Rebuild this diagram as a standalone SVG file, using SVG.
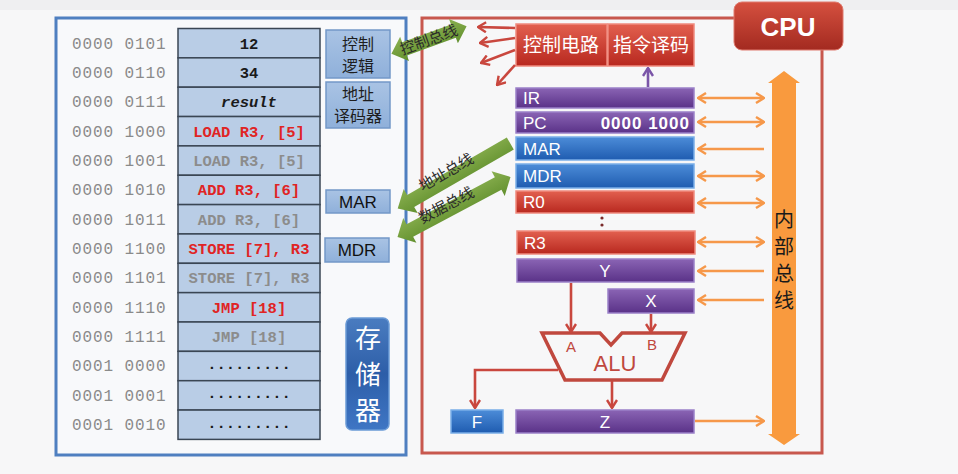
<svg xmlns="http://www.w3.org/2000/svg" width="958" height="474" viewBox="0 0 958 474">
<defs>
<style>
.addr{font-family:"Liberation Mono",monospace;font-size:16px;fill:#8a8a8a;letter-spacing:0.9px}
.cell{fill:#b9cde6;stroke:#3a4654;stroke-width:1.5}
.ct{font-family:"Liberation Mono",monospace;font-size:15.5px;font-weight:bold;text-anchor:middle}
.red{fill:#e02424}.gray{fill:#8c8c8c}.blk{fill:#1a1a1a}
.side{fill:url(#gSide);stroke:#7398c8;stroke-width:1.5}
.st{font-family:"Noto Sans CJK SC",sans-serif;font-size:16px;fill:#1e1e1e;text-anchor:middle}
.sl{font-family:"Liberation Sans",sans-serif;font-size:17px;fill:#111;text-anchor:middle}
.rt{font-family:"Liberation Sans",sans-serif;font-size:17px;fill:#fff}
.pur{fill:url(#gPur);stroke:#9a80c8;stroke-width:1.5}
.blu{fill:url(#gBlu);stroke:#7aaee8;stroke-width:1.5}
.rd{fill:url(#gRed);stroke:#f08a7e;stroke-width:1.5}
.oar{stroke:#f6984a;stroke-width:2.6;fill:none}
.rl{stroke:#c9473e;stroke-width:2.6;fill:none}
.gb{fill:url(#gGrn)}
.gt{font-family:"Noto Sans CJK SC",sans-serif;font-size:15px;fill:#2a2a2a;text-anchor:middle}
.ct2{font-family:"Noto Sans CJK SC",sans-serif;font-size:19px;fill:#fff;text-anchor:middle}
.mt{font-family:"Noto Sans CJK SC",sans-serif;font-size:26px;fill:#fff;text-anchor:middle}
.bt{font-family:"Noto Sans CJK SC",sans-serif;font-size:20px;fill:#1a1a1a;text-anchor:middle}
</style>
<linearGradient id="gSide" x1="0" y1="0" x2="0" y2="1"><stop offset="0" stop-color="#a9c3e4"/><stop offset="1" stop-color="#8fb0da"/></linearGradient>
<linearGradient id="gPur" x1="0" y1="0" x2="0" y2="1"><stop offset="0" stop-color="#8a64b4"/><stop offset="1" stop-color="#5a3288"/></linearGradient>
<linearGradient id="gBlu" x1="0" y1="0" x2="0" y2="1"><stop offset="0" stop-color="#4c8cd8"/><stop offset="1" stop-color="#1f5cb0"/></linearGradient>
<linearGradient id="gRed" x1="0" y1="0" x2="0" y2="1"><stop offset="0" stop-color="#e2604f"/><stop offset="1" stop-color="#b8281f"/></linearGradient>
<linearGradient id="gCpu" x1="0" y1="0" x2="0" y2="1"><stop offset="0" stop-color="#d5503f"/><stop offset="1" stop-color="#a32a20"/></linearGradient>
<linearGradient id="gMem" x1="0" y1="0" x2="0" y2="1"><stop offset="0" stop-color="#4a7cc0"/><stop offset="0.5" stop-color="#2d5ea8"/><stop offset="1" stop-color="#3f76c4"/></linearGradient>
<linearGradient id="gGrn" x1="0" y1="0" x2="0" y2="1"><stop offset="0" stop-color="#8ab050"/><stop offset="1" stop-color="#62902e"/></linearGradient>
<marker id="mo" viewBox="0 0 10 12" refX="9" refY="6" markerWidth="10" markerHeight="12" markerUnits="userSpaceOnUse" orient="auto-start-reverse"><path d="M1,1 L9,6 L1,11" fill="none" stroke="#f6984a" stroke-width="2.4"/></marker>
<marker id="mr" viewBox="0 0 10 12" refX="9" refY="6" markerWidth="10" markerHeight="12" markerUnits="userSpaceOnUse" orient="auto-start-reverse"><path d="M1,1 L9,6 L1,11" fill="none" stroke="#c9473e" stroke-width="2.4"/></marker>
<marker id="mp" viewBox="0 0 10 12" refX="9" refY="6" markerWidth="10" markerHeight="12" markerUnits="userSpaceOnUse" orient="auto-start-reverse"><path d="M1,1 L9,6 L1,11" fill="none" stroke="#7a55a8" stroke-width="2.4"/></marker>
</defs>
<rect width="958" height="474" fill="#f7f7f8"/>
<rect width="958" height="10" fill="#efeff1"/>

<g id="memory">
<rect x="56" y="18" width="350" height="437" fill="#f8f9fb" stroke="#4f7fc0" stroke-width="3"/>
<g id="mem-cells">
<rect class="cell" x="178" y="28.5" width="142" height="29.35"/>
<rect class="cell" x="178" y="57.85" width="142" height="29.35"/>
<rect class="cell" x="178" y="87.2" width="142" height="29.35"/>
<rect class="cell" x="178" y="116.55" width="142" height="29.35"/>
<rect class="cell" x="178" y="145.9" width="142" height="29.35"/>
<rect class="cell" x="178" y="175.25" width="142" height="29.35"/>
<rect class="cell" x="178" y="204.6" width="142" height="29.35"/>
<rect class="cell" x="178" y="233.95" width="142" height="29.35"/>
<rect class="cell" x="178" y="263.3" width="142" height="29.35"/>
<rect class="cell" x="178" y="292.65" width="142" height="29.35"/>
<rect class="cell" x="178" y="322" width="142" height="29.35"/>
<rect class="cell" x="178" y="351.35" width="142" height="29.35"/>
<rect class="cell" x="178" y="380.7" width="142" height="29.35"/>
<rect class="cell" x="178" y="410.05" width="142" height="29.35"/>
</g>
<g id="mem-addr">
<text class="addr" x="72" y="48.5">0000 0101</text>
<text class="addr" x="72" y="77.8">0000 0110</text>
<text class="addr" x="72" y="107.2">0000 0111</text>
<text class="addr" x="72" y="136.5">0000 1000</text>
<text class="addr" x="72" y="165.9">0000 1001</text>
<text class="addr" x="72" y="195.2">0000 1010</text>
<text class="addr" x="72" y="224.6">0000 1011</text>
<text class="addr" x="72" y="253.9">0000 1100</text>
<text class="addr" x="72" y="283.3">0000 1101</text>
<text class="addr" x="72" y="312.6">0000 1110</text>
<text class="addr" x="72" y="342">0000 1111</text>
<text class="addr" x="72" y="371.3">0001 0000</text>
<text class="addr" x="72" y="400.7">0001 0001</text>
<text class="addr" x="72" y="430">0001 0010</text>
</g>
<g id="mem-content">
<text class="ct blk" x="249" y="48.5">12</text>
<text class="ct blk" x="249" y="77.8">34</text>
<text class="ct blk" x="249" y="107.2" font-style="italic">result</text>
<text class="ct red" x="249" y="136.5">LOAD R3, [5]</text>
<text class="ct gray" x="249" y="165.9">LOAD R3, [5]</text>
<text class="ct red" x="249" y="195.2">ADD R3, [6]</text>
<text class="ct gray" x="249" y="224.6">ADD R3, [6]</text>
<text class="ct red" x="249" y="253.9">STORE [7], R3</text>
<text class="ct gray" x="249" y="283.3">STORE [7], R3</text>
<text class="ct red" x="249" y="312.6">JMP [18]</text>
<text class="ct gray" x="249" y="342">JMP [18]</text>
<text class="ct blk" x="249" y="369">.........</text>
<text class="ct blk" x="249" y="398.4">.........</text>
<text class="ct blk" x="249" y="427.7">.........</text>
</g>
</g>

<g id="ctrl-logic"><rect class="side" x="326" y="30" width="64" height="48"/><text class="st" x="358" y="50">控制<tspan x="358" dy="22">逻辑</tspan></text></g>
<g id="addr-decoder"><rect class="side" x="326" y="82" width="64" height="46"/><text class="st" x="358" y="99.5" font-size="15">地址<tspan x="358" dy="22">译码器</tspan></text></g>
<g id="mem-mar"><rect class="side" x="326" y="190" width="64" height="23"/><text class="sl" x="358" y="208">MAR</text></g>
<g id="mem-mdr"><rect class="side" x="325" y="238" width="64" height="24"/><text class="sl" x="357" y="256">MDR</text></g>
<g id="storage-label"><rect x="346" y="318" width="43" height="112" rx="6" fill="url(#gMem)" stroke="#6a9ad6" stroke-width="1.5"/><text class="mt" x="368" y="348">存<tspan x="368" dy="36">储</tspan><tspan x="368" dy="36">器</tspan></text></g>

<g id="cpu">
<rect x="422" y="18" width="400" height="435" fill="none" stroke="#c8584e" stroke-width="3"/>
</g>
<g id="cpu-label"><rect x="734" y="2" width="109" height="48" rx="8" fill="url(#gCpu)" stroke="#e07a6e" stroke-width="1"/><text x="788" y="36" font-family="Liberation Sans,sans-serif" font-size="26" font-weight="bold" fill="#fff" text-anchor="middle">CPU</text></g>

<g id="ctrl-circuit"><rect x="516" y="24" width="91" height="42" fill="url(#gRed)" stroke="#f08a7e" stroke-width="1.5"/><text class="ct2" x="561" y="52">控制电路</text></g>
<g id="instr-decode"><rect x="608" y="24" width="86" height="42" fill="url(#gRed)" stroke="#f08a7e" stroke-width="1.5"/><text class="ct2" x="651" y="52">指令译码</text></g>

<g id="reg-ir"><rect class="pur" x="516" y="88" width="178" height="20"/><text class="rt" x="523" y="104">IR</text></g>
<g id="reg-pc"><rect class="pur" x="516" y="112" width="178" height="21"/><text class="rt" x="523" y="129">PC</text><text class="rt" x="690" y="129" text-anchor="end" font-size="15" font-weight="bold" letter-spacing="1">0000 1000</text></g>
<g id="reg-mar"><rect class="blu" x="516" y="137" width="178" height="23"/><text class="rt" x="523" y="155">MAR</text></g>
<g id="reg-mdr"><rect class="blu" x="516" y="164" width="178" height="24"/><text class="rt" x="523" y="182">MDR</text></g>
<g id="reg-r0"><rect class="rd" x="516" y="191" width="178" height="22"/><text class="rt" x="523" y="208">R0</text></g>
<g id="reg-dots"><circle cx="602" cy="218" r="1.6" fill="#7a2a2a"/><circle cx="602" cy="225" r="1.6" fill="#7a2a2a"/></g>
<g id="reg-r3"><rect class="rd" x="517" y="231" width="178" height="23"/><text class="rt" x="524" y="249">R3</text></g>
<g id="reg-y"><rect class="pur" x="517" y="259" width="177" height="23"/><text class="rt" x="605" y="277" text-anchor="middle">Y</text></g>
<g id="reg-x"><rect class="pur" x="608" y="289" width="86" height="24"/><text class="rt" x="651" y="307" text-anchor="middle">X</text></g>
<g id="reg-f"><rect class="blu" x="451" y="410" width="52" height="23"/><text class="rt" x="477" y="428" text-anchor="middle">F</text></g>
<g id="reg-z"><rect class="pur" x="516" y="410" width="178" height="23"/><text class="rt" x="605" y="428" text-anchor="middle">Z</text></g>

<g id="alu">
<path d="M542,333 L600,333 L611,345 L622,333 L685,333 L662,380 L565,380 Z" fill="none" stroke="#c0483e" stroke-width="3.5" stroke-linejoin="miter"/>
<text x="571" y="352" font-family="Liberation Sans,sans-serif" font-size="15" fill="#c0483e" text-anchor="middle">A</text>
<text x="652" y="350" font-family="Liberation Sans,sans-serif" font-size="15" fill="#c0483e" text-anchor="middle">B</text>
<text x="615" y="371" font-family="Liberation Sans,sans-serif" font-size="22" fill="#c0483e" text-anchor="middle">ALU</text>
</g>

<g id="internal-bus">
<polygon points="784,71 800,83 796,83 796,434 800,434 784,445 768,434 772,434 772,83 768,83" fill="#f99a3e"/>
<text class="bt" x="784" y="227">内<tspan x="784" dy="27">部</tspan><tspan x="784" dy="27">总</tspan><tspan x="784" dy="27">线</tspan></text>
</g>

<g id="connectors">
<line class="oar" x1="698" y1="98" x2="764" y2="98" marker-start="url(#mo)" marker-end="url(#mo)"/>
<line class="oar" x1="698" y1="122" x2="764" y2="122" marker-start="url(#mo)" marker-end="url(#mo)"/>
<line class="oar" x1="698" y1="149" x2="764" y2="149" marker-start="url(#mo)"/>
<line class="oar" x1="698" y1="176" x2="764" y2="176" marker-start="url(#mo)" marker-end="url(#mo)"/>
<line class="oar" x1="698" y1="203" x2="764" y2="203" marker-start="url(#mo)" marker-end="url(#mo)"/>
<line class="oar" x1="698" y1="242" x2="764" y2="242" marker-start="url(#mo)" marker-end="url(#mo)"/>
<line class="oar" x1="698" y1="271" x2="764" y2="271" marker-start="url(#mo)"/>
<line class="oar" x1="698" y1="300" x2="764" y2="300" marker-start="url(#mo)"/>
<line class="oar" x1="695" y1="421" x2="764" y2="421" marker-end="url(#mo)"/>

<line x1="648" y1="87" x2="648" y2="68" stroke="#7a55a8" stroke-width="2.6" marker-end="url(#mp)"/>

<line class="rl" x1="515" y1="28" x2="478" y2="27" marker-end="url(#mr)"/>
<line class="rl" x1="515" y1="38" x2="480" y2="43" marker-end="url(#mr)"/>
<line class="rl" x1="515" y1="50" x2="481" y2="63" marker-end="url(#mr)"/>
<line class="rl" x1="515" y1="65" x2="497" y2="85" marker-end="url(#mr)"/>

<line class="rl" x1="571" y1="283" x2="571" y2="332" marker-end="url(#mr)"/>
<line class="rl" x1="651" y1="314" x2="651" y2="332" marker-end="url(#mr)"/>
<line class="rl" x1="612" y1="381" x2="612" y2="408" marker-end="url(#mr)"/>
<polyline class="rl" points="558,370 475,370 475,408" marker-end="url(#mr)"/>

<g id="ctrl-bus" transform="translate(429,40) rotate(-20)">
<polygon class="gb" points="-40,0 -26,-13 -26,-7 26,-7 26,-13 40,0 26,13 26,7 -26,7 -26,13"/>
<text class="gt" x="0" y="5">控制总线</text>
</g>
<g id="addr-bus" transform="translate(454,176) rotate(-30)">
<polygon class="gb" points="-65,0 -50,-14 -50,-7 65,-7 65,7 -50,7 -50,14"/>
<text class="gt" x="-5" y="-2">地址总线</text>
</g>
<g id="data-bus" transform="translate(454,207) rotate(-28)">
<polygon class="gb" points="-64,0 -50,-14 -50,-7 50,-7 50,-14 64,0 50,14 50,7 -50,7 -50,14"/>
<text class="gt" x="-6" y="0">数据总线</text>
</g>
</g>
</svg>
